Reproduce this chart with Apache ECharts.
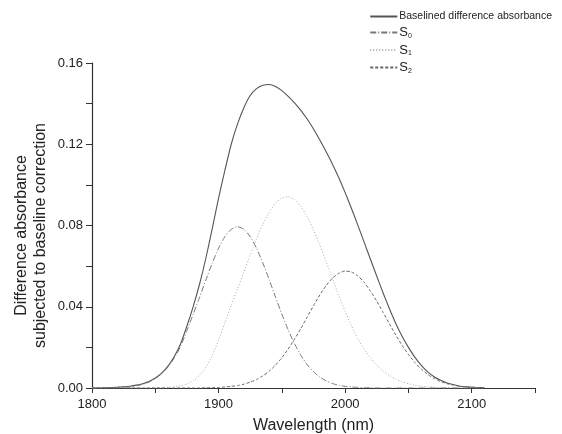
<!DOCTYPE html>
<html>
<head>
<meta charset="utf-8">
<title></title>
<script src="https://cdn.jsdelivr.net/npm/echarts@6/dist/echarts.min.js"></script>
<style>
  html,body{margin:0;padding:0;background:#fff;}
  #main{width:562px;height:434px;}
</style>
</head>
<body>
<div id="main"></div>
<script type="text/javascript">
// wavelength grid (nm), 5 nm steps
var wavelengths = [
  1800,1805,1810,1815,1820,1825,1830,1835,1840,1845,
  1850,1855,1860,1865,1870,1875,1880,1885,1890,1895,
  1900,1905,1910,1915,1920,1925,1930,1935,1940,1945,
  1950,1955,1960,1965,1970,1975,1980,1985,1990,1995,
  2000,2005,2010,2015,2020,2025,2030,2035,2040,2045,
  2050,2055,2060,2065,2070,2075,2080,2085,2090,2095,
  2100,2105,2110];

var baselined = [
  0,0,0.0001,0.0002,0.0004,0.0006,0.0009,0.0014,0.0021,0.0032,
  0.0049,0.0073,0.0108,0.0155,0.0218,0.0305,0.0402,0.0512,0.0640,0.0785,
  0.0935,0.1072,0.1200,0.1300,0.1380,0.1440,0.1474,0.1490,0.1494,0.1484,
  0.1464,0.1436,0.1404,0.1367,0.1324,0.1275,0.1221,0.1163,0.1102,0.1035,
  0.0962,0.0884,0.0802,0.0718,0.0634,0.0550,0.0468,0.0390,0.0318,0.0255,
  0.0200,0.0152,0.0113,0.0081,0.0057,0.0039,0.0026,0.0017,0.0010,0.0006,
  0.0004,0.0002,0.0001];

var s0 = [
  0,0,0.0001,0.0001,0.0002,0.0004,0.0006,0.0011,0.0018,0.0029,
  0.0046,0.0070,0.0103,0.0147,0.0205,0.0283,0.0364,0.0447,0.0533,0.0615,
  0.0688,0.0745,0.0781,0.0794,0.0781,0.0745,0.0688,0.0615,0.0533,0.0447,
  0.0364,0.0286,0.0218,0.0161,0.0115,0.0080,0.0054,0.0035,0.0022,0.0013,
  0.0008,0.0005,0.0003,0.0001,0.0001,0,0,0,0,0,
  0,0,0,0,0,0,0,0,0,0,
  0,0,0];

var s1 = [
  0,0,0,0,0,0,0,0,0,0,
  0.0001,0.0001,0.0003,0.0006,0.0011,0.0020,0.0036,0.0062,0.0102,0.0160,
  0.0235,0.0320,0.0408,0.0488,0.0571,0.0655,0.0734,0.0806,0.0865,0.0910,
  0.0935,0.0942,0.0927,0.0894,0.0843,0.0778,0.0703,0.0622,0.0538,0.0455,
  0.0377,0.0306,0.0243,0.0192,0.0148,0.0112,0.0084,0.0062,0.0044,0.0031,
  0.0021,0.0014,0.0009,0.0006,0.0004,0.0002,0.0001,0.0001,0,0,
  0,0,0];

var s2 = [
  0,0,0,0,0,0,0,0,0,0,
  0,0,0,0,0,0,0,0,0.0001,0.0002,
  0.0003,0.0005,0.0008,0.0012,0.0019,0.0029,0.0042,0.0060,0.0083,0.0113,
  0.0149,0.0192,0.0240,0.0293,0.0349,0.0405,0.0458,0.0504,0.0541,0.0565,
  0.0576,0.0571,0.0552,0.0520,0.0477,0.0427,0.0372,0.0316,0.0261,0.0210,
  0.0165,0.0126,0.0094,0.0068,0.0048,0.0033,0.0022,0.0015,0.0009,0.0006,
  0.0004,0.0002,0.0001];

function pairs(ys) {
  return wavelengths.map(function (x, i) { return [x, ys[i]]; });
}

var font = 'Liberation Sans, Arial, sans-serif';
var myChart = echarts.init(document.getElementById('main'));

myChart.setOption({
  animation: false,
  backgroundColor: '#fff',
  textStyle: { fontFamily: font },
  legend: {
    orient: 'vertical',
    right: 5,
    top: 6,
    itemWidth: 27,
    itemHeight: 12,
    itemGap: 4,
    itemStyle: { opacity: 0 },
    data: ['Baselined difference absorbance', 'S0', 'S1', 'S2'],
    formatter: function (name) {
      if (name.charAt(0) === 'S' && name.length === 2) {
        return '{s|S}{sub|' + name.charAt(1) + '}';
      }
      return name;
    },
    textStyle: {
      fontFamily: font,
      fontSize: 10.5,
      color: '#222',
      padding: [0, 0, 0, -3],
      rich: {
        s: { fontSize: 13, fontFamily: font, color: '#222' },
        sub: { fontSize: 7, fontFamily: font, color: '#222', padding: [7, 0, 0, 0] }
      }
    }
  },
  grid: { left: 92, right: 27, top: 63, bottom: 46, outerBoundsMode: 'none' },
  xAxis: {
    type: 'value',
    min: 1800,
    max: 2150,
    interval: 50,
    name: 'Wavelength (nm)',
    nameLocation: 'middle',
    nameGap: 30,
    nameTextStyle: { fontSize: 16, color: '#222', fontFamily: font },
    axisLine: { lineStyle: { color: '#333', width: 1.2 } },
    axisTick: { length: 5, lineStyle: { color: '#333' } },
    axisLabel: {
      fontSize: 13, color: '#222', margin: 10, fontFamily: font,
      formatter: function (v) { return v % 100 === 0 ? String(v) : ''; }
    },
    splitLine: { show: false }
  },
  yAxis: {
    type: 'value',
    min: 0,
    max: 0.16,
    interval: 0.02,
    name: 'Difference absorbance\nsubjected to baseline correction',
    nameLocation: 'middle',
    nameGap: 42,
    nameMoveOverlap: false,
    nameTextStyle: {
      fontSize: 16, color: '#222', lineHeight: 19, fontFamily: font,
      padding: [0, 20, 0, 0]
    },
    axisLine: { show: true, lineStyle: { color: '#333', width: 1.2 } },
    axisTick: { show: true, length: 6, lineStyle: { color: '#333' } },
    axisLabel: {
      fontSize: 13, color: '#222', margin: 9, fontFamily: font,
      formatter: function (v) { return Math.round(v * 100) % 4 === 0 ? v.toFixed(2) : ''; }
    },
    splitLine: { show: false }
  },
  series: [
    {
      name: 'Baselined difference absorbance',
      type: 'line',
      data: pairs(baselined),
      smooth: 0.2,
      symbol: 'none',
      lineStyle: { color: '#555', width: 1.1, type: 'solid' },
      itemStyle: { color: '#555' }
    },
    {
      name: 'S0',
      type: 'line',
      data: pairs(s0),
      smooth: 0.2,
      symbol: 'none',
      lineStyle: { color: '#777', width: 1, type: [6, 2, 1, 2] },
      itemStyle: { color: '#777' }
    },
    {
      name: 'S1',
      type: 'line',
      data: pairs(s1),
      smooth: 0.2,
      symbol: 'none',
      lineStyle: { color: '#aaa', width: 1, type: [1, 2] },
      itemStyle: { color: '#aaa' }
    },
    {
      name: 'S2',
      type: 'line',
      data: pairs(s2),
      smooth: 0.2,
      symbol: 'none',
      lineStyle: { color: '#666', width: 1, type: [3, 2] },
      itemStyle: { color: '#666' }
    }
  ]
});

window.addEventListener('resize', function () {
  myChart.resize();
});
</script>
</body>
</html>
